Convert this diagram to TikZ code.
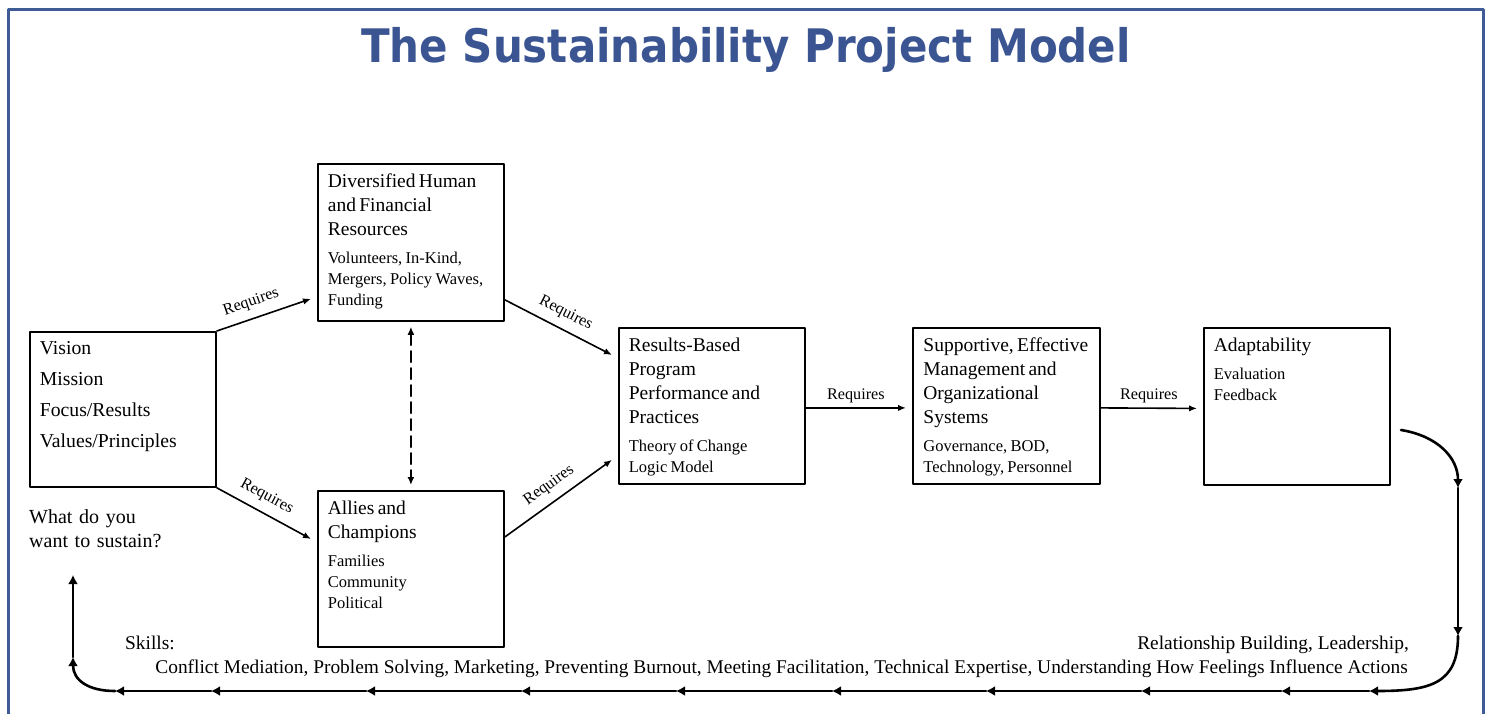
\documentclass[tikz,border=0pt]{standalone}
\usepackage{fontspec}
\setmainfont{Liberation Serif}
\newfontfamily\titlefont{DejaVu Sans}
\usetikzlibrary{arrows.meta,positioning,calc}
\definecolor{frameblue}{HTML}{3F5B96}
\definecolor{titleblue}{HTML}{3A5592}
% heading lines and detail lines inside a box
\newcommand{\boxhead}[1]{{\fontsize{19.5}{24}\selectfont #1\par}}
\newcommand{\boxsub}[1]{{\vspace{7pt}\fontsize{16.5}{21}\selectfont #1\par}}
\tikzset{
    every picture/.style={line cap=round,line join=round},
    modelbox/.style={draw=black,line width=1.8pt,anchor=north west,
      inner xsep=10pt,inner ysep=0pt,text width=166pt,align=left,
      minimum width=186pt,text height=24pt,text depth=133pt},
    reqarrow/.style={-{Latex[length=8pt,width=6.5pt]},line width=1.6pt},
    reqlabel/.style={font=\fontsize{16.2}{18}\selectfont,inner sep=4pt},
    loopline/.style={-{Latex[length=9pt,width=10pt]},line width=2.6pt},
    bigtext/.style={font=\fontsize{19.4}{24}\selectfont,inner sep=0pt}
}

\begin{document}
\begin{tikzpicture}[x=1pt,y=-1pt]
  \useasboundingbox (0,0) rectangle (1488,713);
  \draw[frameblue,line width=3pt] (8.5,9.5) rectangle (1483,730);
  \node[font=\titlefont\bfseries\fontsize{42}{48}\selectfont,text=titleblue,
    yscale=1.1,transform shape] (title) at (746,50) {The Sustainability Project Model};

  % the boxes
  \node[modelbox,text height=23pt,text depth=132pt] (vision) at (29,331)
    {\fontsize{19.7}{31}\selectfont Vision\\Mission\\Focus/Results\\Values/Principles\par};
  \node[modelbox] (resources) at (317,163)
    {\boxhead{Diversified Human\\and Financial\\Resources}\boxsub{Volunteers, In-Kind,\\Mergers, Policy Waves,\\Funding}};
  \node[modelbox,text depth=132pt] (allies) at (317,490)
    {\boxhead{Allies and\\Champions}\boxsub{Families\\Community\\Political}};
  \node[modelbox,text depth=132pt] (results) at (618,327)
    {\boxhead{Results-Based\\Program\\Performance and\\Practices}\boxsub{Theory of Change\\Logic Model}};
  \node[modelbox,text depth=132pt,minimum width=187pt] (systems) at (912,327)
    {\boxhead{Supportive, Effective\\Management and\\Organizational\\Systems}\boxsub{Governance, BOD,\\Technology, Personnel}};
  \node[modelbox] (adapt) at (1203,327)
    {\boxhead{Adaptability}\boxsub{Evaluation\\Feedback}};

  \node[bigtext,font=\fontsize{20}{24}\selectfont,text width=160pt,align=left,anchor=base west] (sustain) at (29,523)
    {What do you\\want to sustain?};

  % requirement arrows
  \draw[reqarrow] (vision.north east) -- ([xshift=-6pt,yshift=23pt]resources.south west)
    node[reqlabel,pos=0.42,above=4pt,sloped] {Requires};
  \draw[reqarrow] (vision.south east) -- ([xshift=-6pt,yshift=-49pt]allies.north west)
    node[reqlabel,pos=0.45,above=4pt,sloped] {Requires};
  \draw[reqarrow] ([yshift=22pt]resources.south east) -- ([xshift=-6pt,yshift=-28pt]results.north west)
    node[reqlabel,midway,above=4pt,sloped] {Requires};
  \draw[reqarrow] ([yshift=-47pt]allies.north east) -- ([xshift=-6pt,yshift=25pt]results.south west)
    node[reqlabel,midway,above=4pt,sloped] {Requires};
  \draw[reqarrow] ([yshift=-2pt]results.east) -- ([xshift=-6pt,yshift=-2pt]systems.west)
    node[reqlabel,midway,above] {Requires};
  \draw[reqarrow] ([yshift=-2pt]systems.east) -- ([xshift=-6pt,yshift=-2pt]adapt.west)
    node[reqlabel,midway,above] {Requires};
  \draw[{Latex[length=8pt,width=7pt]}-{Latex[length=8pt,width=7pt]},line width=2pt,
    dash pattern=on 11pt off 6pt,shorten <=5pt,shorten >=5pt] (resources.south) -- (allies.north);

  % skills
  \node[bigtext,anchor=base west] (skills) at (125,649) {Skills:};
  \node[bigtext,anchor=base east] (skilltop) at (1409,649) {Relationship Building, Leadership,};
  \node[bigtext,anchor=base east] (skillrow) at (1408,673)
    {Conflict Mediation, Problem Solving, Marketing, Preventing Burnout, Meeting Facilitation, Technical Expertise, Understanding How Feelings Influence Actions};

  % feedback loop back to the start
  \coordinate (r0) at (1401,430);
  \coordinate (r1) at (1458,488);
  \coordinate (r2) at (1458,636);
  \foreach \x [count=\i from 0] in {1369,1281,1141,986,832,676,521,366,211,115}
    \coordinate (b\i) at (\x,691);
  \coordinate (l0) at (73,657);
  \coordinate (l1) at (73,575);
  \draw[loopline] (r0) .. controls (1438,436) and (1458,458) .. (r1);
  \draw[loopline] (r1) -- (r2);
  \draw[loopline] (r2) .. controls (1458,684) and (1430,691) .. (b0);
  \foreach \i/\j in {0/1,1/2,2/3,3/4,4/5,5/6,6/7,7/8,8/9}
    \draw[loopline] (b\i) -- (b\j);
  \draw[loopline] (b9) .. controls (88,691) and (73,680) .. (l0);
  \draw[loopline] (l0) -- (l1);
\end{tikzpicture}
\end{document}
